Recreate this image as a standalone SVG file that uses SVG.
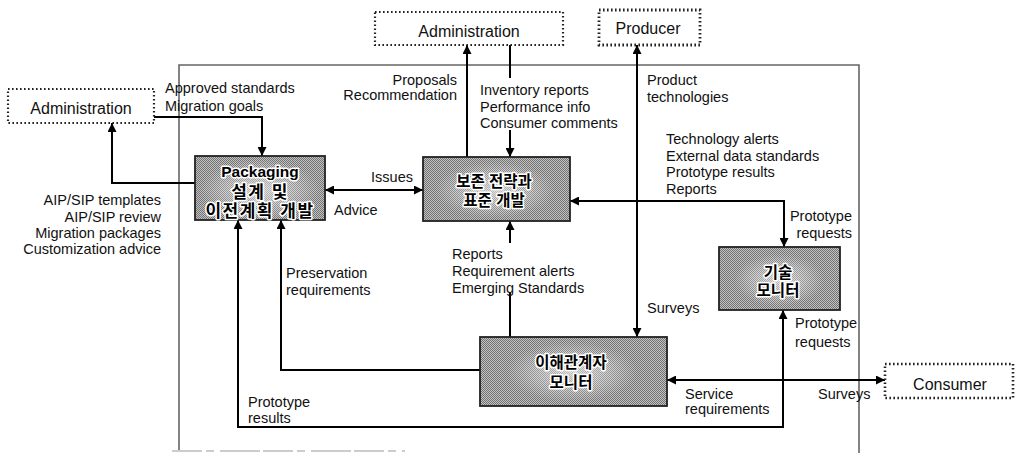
<svg xmlns="http://www.w3.org/2000/svg" width="1015" height="453" viewBox="0 0 1015 453">
  <defs>
    <style>
      .lbl { font-family: "Liberation Sans", Arial, sans-serif; font-size: 14.5px; fill: #111; }
      .ext { font-family: "Liberation Sans", Arial, sans-serif; font-size: 16px; fill: #111; }
      .ttl { font-family: "Liberation Sans", "Noto Sans CJK KR", sans-serif; font-size: 15.5px; font-weight: bold; fill: #000;
             stroke: #fff; stroke-width: 3px; paint-order: stroke; stroke-linejoin: round; text-anchor: middle; }
      .wide { font-size: 17px; letter-spacing: 1.5px; }
      .end { text-anchor: end; }
      .extbox { fill: #fff; stroke: #222; stroke-width: 2.2; stroke-dasharray: 1.6 2.4; }
      .proc { fill: url(#stipple); stroke: #222; stroke-width: 1.8; }
      .glow { fill: url(#glow); }
      .wire { fill: none; stroke: #000; stroke-width: 2; }
      .frame { fill: none; stroke: #666; stroke-width: 1.6; }
    </style>
    <pattern id="stipple" width="2" height="2" patternUnits="userSpaceOnUse">
      <rect width="2" height="2" fill="#c2c2c2"/>
      <rect width="1" height="1" fill="#727272"/>
      <rect x="1" y="1" width="1" height="1" fill="#727272"/>
    </pattern>
    <radialGradient id="glow" cx="0.5" cy="0.5" r="0.5">
      <stop offset="0" stop-color="#fff" stop-opacity="0.55"/>
      <stop offset="0.6" stop-color="#fff" stop-opacity="0.25"/>
      <stop offset="1" stop-color="#fff" stop-opacity="0"/>
    </radialGradient>
    <marker id="ah" viewBox="0 0 10 10" refX="10" refY="5" markerWidth="9" markerHeight="9"
            markerUnits="userSpaceOnUse" orient="auto-start-reverse">
      <path d="M0,0 L10,5 L0,10 z" fill="#000"/>
    </marker>
  </defs>

  <rect width="1015" height="453" fill="#fff"/>

  <!-- system boundary -->
  <g id="boundary">
    <path class="frame" d="M179,450 V65 H859 V453"/>
    <path d="M172,451 H405" fill="none" stroke="#999" stroke-width="1" stroke-dasharray="30 4 8 6 40 3"/>
  </g>

  <!-- connectors -->
  <g id="connectors">
    <path class="wire" d="M154,117 H262 V156" marker-end="url(#ah)"/>
    <path class="wire" d="M195,183 H112 V123" marker-end="url(#ah)"/>
    <path class="wire" d="M325,190 H423" marker-start="url(#ah)" marker-end="url(#ah)"/>
    <path class="wire" d="M467,157 V45" marker-end="url(#ah)"/>
    <path class="wire" d="M510,45 V78"/>
    <path class="wire" d="M510,130 V157" marker-end="url(#ah)"/>
    <path class="wire" d="M637,45 V337" marker-start="url(#ah)" marker-end="url(#ah)"/>
    <path class="wire" d="M784,247 V201 H570" marker-start="url(#ah)" marker-end="url(#ah)"/>
    <path class="wire" d="M510,337 V292"/>
    <path class="wire" d="M510,243 V221" marker-end="url(#ah)"/>
    <path class="wire" d="M480,370 H281 V220" marker-end="url(#ah)"/>
    <path class="wire" d="M238,220 V427 H783 V310" marker-start="url(#ah)" marker-end="url(#ah)"/>
    <path class="wire" d="M667,380 H885" marker-start="url(#ah)" marker-end="url(#ah)"/>
  </g>

  <!-- external entities -->
  <g id="admin-left">
    <rect class="extbox" x="8" y="89" width="146" height="34"/>
    <text class="ext" x="81" y="114" text-anchor="middle">Administration</text>
  </g>
  <g id="admin-top">
    <rect class="extbox" x="375" y="12" width="188" height="33"/>
    <text class="ext" x="469" y="37" text-anchor="middle">Administration</text>
  </g>
  <g id="producer">
    <rect class="extbox" x="599" y="10" width="101" height="35" style="stroke-width:2.8"/>
    <text class="ext" x="648" y="34" text-anchor="middle">Producer</text>
  </g>
  <g id="consumer">
    <rect class="extbox" x="885" y="364" width="128" height="34" style="stroke-width:2.6"/>
    <text class="ext" x="950" y="390" text-anchor="middle">Consumer</text>
  </g>

  <!-- functions -->
  <g id="packaging">
    <rect class="proc" x="195" y="156" width="130" height="64"/>
    <ellipse class="glow" cx="260" cy="190" rx="60" ry="30"/>
    <text class="ttl" x="260" y="177">Packaging</text>
    <text class="ttl wide" x="260" y="198">설계 및</text>
    <text class="ttl wide" x="260" y="217">이전계획 개발</text>
  </g>
  <g id="strategy">
    <rect class="proc" x="423" y="157" width="147" height="64"/>
    <ellipse class="glow" cx="495" cy="190" rx="60" ry="28"/>
    <text class="ttl" x="494" y="187">보존 전략과</text>
    <text class="ttl" x="494" y="206">표준 개발</text>
  </g>
  <g id="tech-monitor">
    <rect class="proc" x="719" y="247" width="121" height="63"/>
    <ellipse class="glow" cx="779" cy="280" rx="45" ry="26"/>
    <text class="ttl" x="778" y="278">기술</text>
    <text class="ttl" x="778" y="296">모니터</text>
  </g>
  <g id="stakeholder-monitor">
    <rect class="proc" x="480" y="337" width="187" height="69"/>
    <ellipse class="glow" cx="572" cy="372" rx="65" ry="30"/>
    <text class="ttl" x="571" y="368">이해관계자</text>
    <text class="ttl" x="571" y="388">모니터</text>
  </g>

  <!-- flow labels -->
  <g id="labels">
    <text class="lbl" x="165" y="93">Approved standards</text>
    <text class="lbl" x="165" y="111">Migration goals</text>

    <text class="lbl end" x="161" y="205">AIP/SIP templates</text>
    <text class="lbl end" x="161" y="222">AIP/SIP review</text>
    <text class="lbl end" x="161" y="238">Migration packages</text>
    <text class="lbl end" x="161" y="254">Customization advice</text>

    <text class="lbl end" x="413" y="182">Issues</text>
    <text class="lbl" x="334" y="215">Advice</text>

    <text class="lbl end" x="457" y="85">Proposals</text>
    <text class="lbl end" x="457" y="100">Recommendation</text>

    <text class="lbl" x="480" y="95">Inventory reports</text>
    <text class="lbl" x="480" y="112">Performance info</text>
    <text class="lbl" x="480" y="128">Consumer comments</text>

    <text class="lbl" x="647" y="85">Product</text>
    <text class="lbl" x="647" y="102">technologies</text>

    <text class="lbl" x="666" y="144">Technology alerts</text>
    <text class="lbl" x="666" y="161">External data standards</text>
    <text class="lbl" x="666" y="177">Prototype results</text>
    <text class="lbl" x="666" y="194">Reports</text>

    <text class="lbl end" x="852" y="221">Prototype</text>
    <text class="lbl end" x="852" y="238">requests</text>

    <text class="lbl" x="452" y="259">Reports</text>
    <text class="lbl" x="452" y="276">Requirement alerts</text>
    <text class="lbl" x="452" y="293">Emerging Standards</text>

    <text class="lbl" x="286" y="278">Preservation</text>
    <text class="lbl" x="286" y="295">requirements</text>

    <text class="lbl" x="647" y="313">Surveys</text>

    <text class="lbl" x="795" y="328">Prototype</text>
    <text class="lbl" x="795" y="347">requests</text>

    <text class="lbl" x="685" y="399">Service</text>
    <text class="lbl" x="685" y="414">requirements</text>
    <text class="lbl" x="818" y="399">Surveys</text>

    <text class="lbl" x="248" y="407">Prototype</text>
    <text class="lbl" x="248" y="423">results</text>
  </g>
</svg>
